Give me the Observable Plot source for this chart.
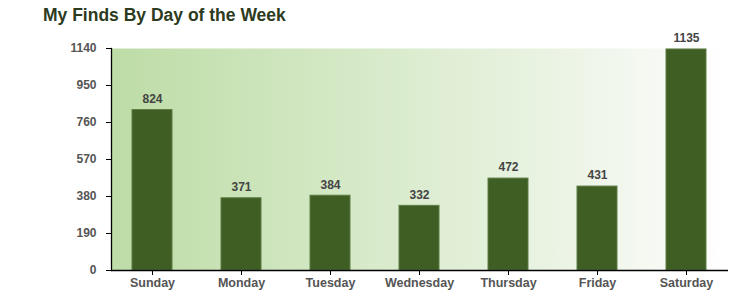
<!DOCTYPE html>
<html>
<head>
<meta charset="utf-8">
<script src="https://cdn.jsdelivr.net/npm/d3@7"></script>
<script src="https://cdn.jsdelivr.net/npm/@observablehq/plot@0.6"></script>
<style>
  body { margin: 0; background: #fff; }
  #wrap { position: relative; width: 750px; height: 308px; }
  #title { position: absolute; left: 43px; top: 5px; font: bold 17.5px "Liberation Sans", Arial, sans-serif; color: #2c3a20; }
  svg { position: absolute; left: 0; top: 0; }
</style>
</head>
<body>
<div id="wrap"><div id="title">My Finds By Day of the Week</div></div>
<script>
const days = ["Sunday", "Monday", "Tuesday", "Wednesday", "Thursday", "Friday", "Saturday"];
const finds = [824, 371, 384, 332, 472, 431, 1135];
const yTicks = [0, 190, 380, 570, 760, 950, 1140];

const data = days.map((d, i) => ({day: d, value: finds[i]}));

const chart = Plot.plot({
  width: 750,
  height: 308,
  marginLeft: 111,
  marginRight: 22,
  marginTop: 48,
  marginBottom: 38,
  style: {fontFamily: "'Liberation Sans', Arial, sans-serif", fontSize: "12px", fontWeight: "bold", color: "#555", background: "transparent"},
  x: {domain: days, paddingInner: 0.55, paddingOuter: 0.23, label: null},
  y: {domain: [0, 1140], label: null},
  marks: [
    Plot.frame({fill: "url(#bggrad)", stroke: "none"}),
    Plot.barY(data, {x: "day", y: "value", fill: "#3e5e24", stroke: "#5d7d45", strokeWidth: 1}),
    Plot.text(data, {x: "day", y: "value", text: d => String(d.value), dy: -11, fill: "#444", fontWeight: "bold", fontSize: 12}),
    Plot.axisY({ticks: yTicks, tickFormat: d => String(d), tickSize: 5, tickPadding: 10, fill: "#555", stroke: "#000", label: null}),
    Plot.axisX({tickSize: 5, tickPadding: 3, fill: "#555", stroke: "#000", label: null, fontSize: 12.5}),
    Plot.ruleY([0], {stroke: "#000", strokeWidth: 1.3}),
    Plot.frame({anchor: "left", stroke: "#000", strokeWidth: 1.3})
  ]
});

const ns = "http://www.w3.org/2000/svg";
const defs = document.createElementNS(ns, "defs");
const grad = document.createElementNS(ns, "linearGradient");
grad.setAttribute("id", "bggrad");
grad.setAttribute("x1", "0"); grad.setAttribute("x2", "1");
grad.setAttribute("y1", "0"); grad.setAttribute("y2", "0");
[["0", "#bddca6"], ["0.45", "#d9ebcc"], ["0.8", "#f0f6eb"], ["1", "#ffffff"]].forEach(([o, c]) => {
  const s = document.createElementNS(ns, "stop");
  s.setAttribute("offset", o); s.setAttribute("stop-color", c);
  grad.appendChild(s);
});
defs.appendChild(grad);
chart.insertBefore(defs, chart.firstChild);
document.getElementById("wrap").appendChild(chart);
</script>
</body>
</html>
